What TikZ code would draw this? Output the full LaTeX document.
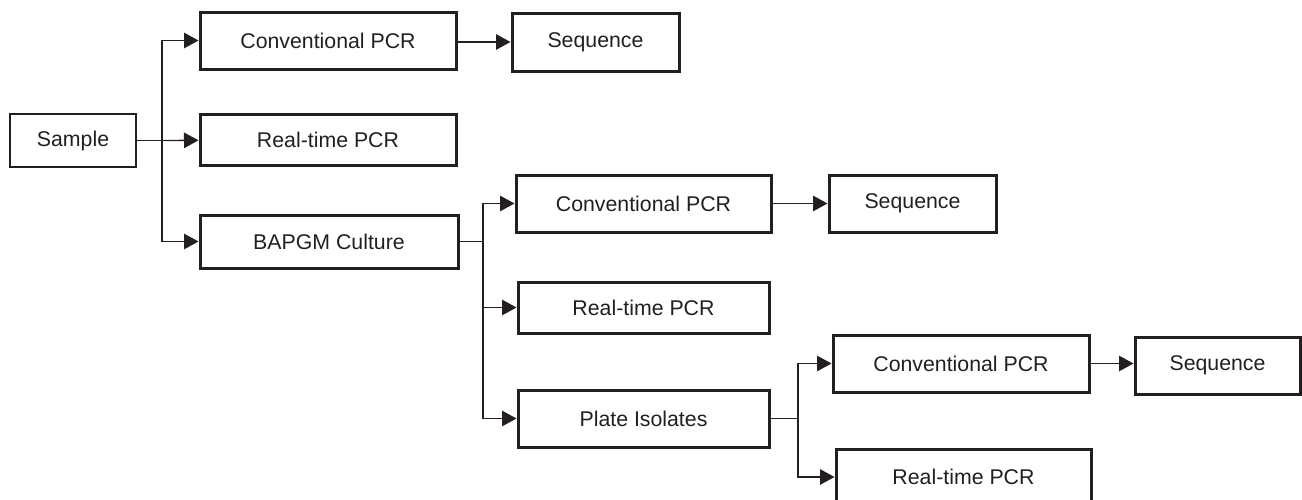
\documentclass[tikz,border=0pt]{standalone}
\usepackage{fontspec}
\setmainfont{Liberation Sans}
\usetikzlibrary{arrows.meta}
\definecolor{ink}{RGB}{35,31,32}
\tikzset{
  stage/.style={draw=ink, line width=3pt, rectangle, inner sep=0pt,
    text=ink, font=\fontsize{21.3}{25}\selectfont},
  origin/.style={stage, line width=1.5pt},
  link/.style={draw=ink, line width=1.3pt},
  flow/.style={link, -{Triangle[length=14.5pt, width=15.5pt]}}
}
\begin{document}
\begin{tikzpicture}[x=1pt, y=-1pt]
\useasboundingbox (0,0) rectangle (1302,499);

% first level
\node[origin, minimum width=126pt, minimum height=53pt] (sample) at (73,140.5) {Sample};
\node[stage, minimum width=256pt, minimum height=57pt] (conv1) at (328,40.5) {Conventional PCR};
\node[stage, minimum width=256pt, minimum height=51pt] (real1) at (328,139.5) {Real-time PCR};
\node[stage, minimum width=258pt, minimum height=53pt] (bapgm) at (329,241.5) {BAPGM Culture};
\node[stage, minimum width=167pt, minimum height=58pt] (seq1) at (595.5,42) {Sequence};

% culture branch
\node[stage, minimum width=255pt, minimum height=57pt] (conv2) at (643.5,203.5) {Conventional PCR};
\node[stage, minimum width=167pt, minimum height=57pt] (seq2) at (912.5,203.5) {Sequence};
\node[stage, minimum width=251pt, minimum height=51pt] (real2) at (643.5,307.5) {Real-time PCR};
\node[stage, minimum width=251pt, minimum height=57pt] (plate) at (643.5,418.5) {Plate Isolates};

% isolate branch
\node[stage, minimum width=256pt, minimum height=57pt] (conv3) at (961,363.5) {Conventional PCR};
\node[stage, minimum width=165pt, minimum height=57pt] (seq3) at (1217.5,365.5) {Sequence};
\node[stage, minimum width=255pt, minimum height=56pt] (real3) at (963.5,477) {Real-time PCR};

% junctions
\coordinate (j1) at (162,140.5);
\coordinate (j2) at (483,241.5);
\coordinate (j3) at (798,418.5);

% connectors from the sample
\draw[link] (sample) -- (j1);
\draw[flow] (j1) |- (conv1);
\draw[flow] (j1) -- (real1);
\draw[flow] (j1) |- (bapgm);
\draw[flow] (conv1.east |- seq1) -- (seq1);

% connectors from the culture
\draw[link] (bapgm) -- (j2);
\draw[flow] (j2) |- (conv2);
\draw[flow] (j2) |- (real2);
\draw[flow] (j2) |- (plate);
\draw[flow] (conv2) -- (seq2);

% connectors from the isolates
\draw[link] (plate) -- (j3);
\draw[flow] (j3) |- (conv3);
\draw[flow] (j3) |- (real3);
\draw[flow] (conv3) -- (seq3.west |- conv3);
\end{tikzpicture}
\end{document}
